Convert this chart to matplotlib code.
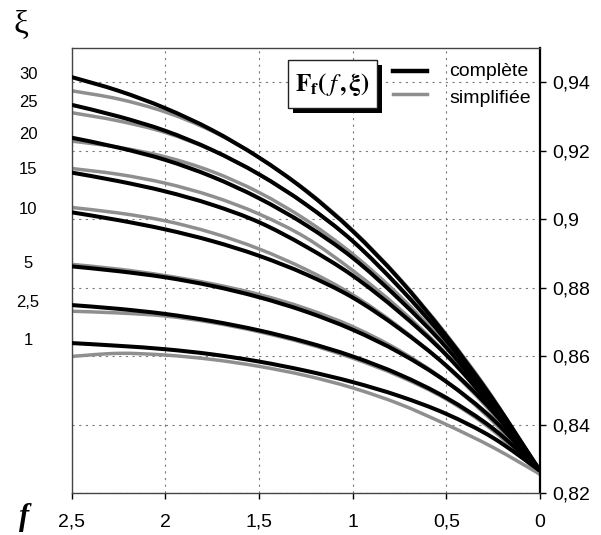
import matplotlib
matplotlib.use('Agg')
import matplotlib.pyplot as plt
from matplotlib.patches import Rectangle, PathPatch
from matplotlib.lines import Line2D
from matplotlib.path import Path

plt.rcParams['font.family'] = ['Liberation Sans', 'DejaVu Sans']
plt.rcParams['mathtext.fontset'] = 'stix'

# ---------------- data ----------------
f_values = [2.5, 2.25, 2.0, 1.75, 1.5, 1.25, 1.0, 0.75, 0.5, 0.25, 0.0]

xi_values = [30, 25, 20, 15, 10, 5, 2.5, 1]
xi_labels = ["30", "25", "20", "15", "10", "5", "2,5", "1"]

complete_xi30 = [0.9415, 0.9375, 0.9324, 0.9260, 0.9180, 0.9083, 0.8965, 0.8824, 0.8659, 0.8473, 0.8265]
complete_xi25 = [0.9334, 0.9300, 0.9258, 0.9202, 0.9131, 0.9043, 0.8936, 0.8800, 0.8645, 0.8465, 0.8265]
complete_xi20 = [0.9238, 0.9209, 0.9173, 0.9124, 0.9061, 0.8983, 0.8887, 0.8765, 0.8625, 0.8455, 0.8265]
complete_xi15 = [0.9136, 0.9111, 0.9081, 0.9042, 0.8991, 0.8920, 0.8835, 0.8728, 0.8603, 0.8447, 0.8265]
complete_xi10 = [0.9020, 0.8997, 0.8970, 0.8936, 0.8893, 0.8839, 0.8771, 0.8680, 0.8572, 0.8437, 0.8265]
complete_xi5 = [0.8862, 0.8848, 0.8830, 0.8805, 0.8772, 0.8730, 0.8677, 0.8610, 0.8525, 0.8415, 0.8265]
complete_xi2_5 = [0.8749, 0.8738, 0.8723, 0.8702, 0.8675, 0.8641, 0.8599, 0.8546, 0.8478, 0.8388, 0.8265]
complete_xi1 = [0.8638, 0.8630, 0.8620, 0.8605, 0.8584, 0.8557, 0.8524, 0.8483, 0.8431, 0.8361, 0.8265]

simplified_xi30 = [0.9375, 0.9351, 0.9313, 0.9257, 0.9180, 0.9085, 0.8968, 0.8827, 0.8663, 0.8477, 0.8255]
simplified_xi25 = [0.9311, 0.9287, 0.9253, 0.9201, 0.9131, 0.9043, 0.8936, 0.8802, 0.8648, 0.8468, 0.8255]
simplified_xi20 = [0.9228, 0.9210, 0.9182, 0.9139, 0.9078, 0.8998, 0.8898, 0.8776, 0.8630, 0.8452, 0.8255]
simplified_xi15 = [0.9148, 0.9131, 0.9105, 0.9067, 0.9015, 0.8946, 0.8850, 0.8738, 0.8606, 0.8445, 0.8255]
simplified_xi10 = [0.9034, 0.9018, 0.8995, 0.8960, 0.8913, 0.8853, 0.8779, 0.8684, 0.8570, 0.8430, 0.8255]
simplified_xi5 = [0.8868, 0.8854, 0.8835, 0.8811, 0.8780, 0.8739, 0.8686, 0.8616, 0.8526, 0.8408, 0.8255]
simplified_xi2_5 = [0.8731, 0.8726, 0.8717, 0.8698, 0.8671, 0.8637, 0.8594, 0.8541, 0.8474, 0.8382, 0.8255]
simplified_xi1 = [0.8599, 0.8608, 0.8603, 0.8590, 0.8570, 0.8543, 0.8507, 0.8460, 0.8400, 0.8333, 0.8255]

x_ticks = [2.5, 2.0, 1.5, 1.0, 0.5, 0.0]
x_tick_labels = ["2,5", "2", "1,5", "1", "0,5", "0"]
y_ticks = [0.82, 0.84, 0.86, 0.88, 0.90, 0.92, 0.94]
y_tick_labels = ["0,82", "0,84", "0,86", "0,88", "0,9", "0,92", "0,94"]

legend_title = r'$\mathbf{F_f(}\,\mathit{f}\,\mathbf{,\xi)}$'
series_names = ["complète", "simplifiée"]

complete_series = [complete_xi30, complete_xi25, complete_xi20, complete_xi15,
                   complete_xi10, complete_xi5, complete_xi2_5, complete_xi1]
simplified_series = [simplified_xi30, simplified_xi25, simplified_xi20, simplified_xi15,
                     simplified_xi10, simplified_xi5, simplified_xi2_5, simplified_xi1]


def smooth_path(xs, ys):
    """Spreadsheet-style 'smoothed line' through the data points (Bezier segments)."""
    pts = list(zip(xs, ys))
    n = len(pts)
    verts = [pts[0]]
    codes = [Path.MOVETO]
    for i in range(n - 1):
        p0 = pts[i - 1] if i > 0 else pts[i]
        p1 = pts[i]
        p2 = pts[i + 1]
        p3 = pts[i + 2] if i + 2 < n else pts[i + 1]
        c1 = (p1[0] + (p2[0] - p0[0]) / 6.0, p1[1] + (p2[1] - p0[1]) / 6.0)
        c2 = (p2[0] - (p3[0] - p1[0]) / 6.0, p2[1] - (p3[1] - p1[1]) / 6.0)
        verts += [c1, c2, p2]
        codes += [Path.CURVE4] * 3
    return Path(verts, codes)


# ---------------- figure ----------------
W, H = 601, 535
fig = plt.figure(figsize=(W / 100, H / 100), dpi=100)
ax_l, ax_r, ax_t, ax_b = 71.7, 540.0, 48.0, 493.0
ax = fig.add_axes([ax_l / W, 1 - ax_b / H, (ax_r - ax_l) / W, (ax_b - ax_t) / H])

black = '#000000'
gray = '#8f8f8f'

for ys in simplified_series:
    ax.add_patch(PathPatch(smooth_path(f_values, ys), facecolor='none', edgecolor=gray,
                           lw=2.5, capstyle='butt', zorder=2))
for ys in complete_series:
    ax.add_patch(PathPatch(smooth_path(f_values, ys), facecolor='none', edgecolor=black,
                           lw=2.9, capstyle='butt', zorder=3))

ax.set_xlim(2.5, 0.0)
ax.set_ylim(0.82, 0.95)

ax.set_xticks(x_ticks)
ax.set_xticklabels(x_tick_labels)
ax.yaxis.tick_right()
ax.set_yticks(y_ticks)
ax.set_yticklabels(y_tick_labels)
ax.tick_params(axis='x', direction='out', length=4, width=1, pad=11, labelsize=14)
ax.tick_params(axis='y', direction='out', length=4, width=1, pad=5, labelsize=14,
               right=True, left=False)

ax.grid(True, linestyle=(0, (2, 4)), color='#7a7a7a', lw=0.8, zorder=1)
ax.set_axisbelow(True)

for side in ['left', 'bottom', 'top']:
    ax.spines[side].set_color('#444444')
    ax.spines[side].set_linewidth(1.0)
ax.spines['right'].set_color('black')
ax.spines['right'].set_linewidth(1.6)

# xi labels at left, aligned with start of each complete curve
for lbl, ys in zip(xi_labels, complete_series):
    ax.annotate(lbl, xy=(-0.093, ys[0]), xycoords=('axes fraction', 'data'),
                xytext=(0, 2), textcoords='offset points',
                ha='center', va='center', fontsize=12)

# axis symbols
fig.text(21 / W, 1 - 25 / H, 'ξ', fontsize=24, family=['Liberation Serif', 'DejaVu Serif'],
         ha='center', va='center')
fig.text(24 / W, 1 - 518 / H, 'f', fontsize=22, family=['Liberation Serif', 'DejaVu Serif'],
         style='italic', weight='bold', ha='center', va='center')

# legend
aw, ah = ax_r - ax_l, ax_b - ax_t


def axx(px):
    return (px - ax_l) / aw


def axy(py):
    return 1 - (py - ax_t) / ah


bx0, bx1, by0, by1 = 288, 377, 60, 108
shadow = Rectangle((axx(bx0 + 5), axy(by1 + 5)), axx(bx1) - axx(bx0), axy(by0) - axy(by1),
                   transform=ax.transAxes, facecolor='black', edgecolor='none',
                   zorder=6, clip_on=False)
box = Rectangle((axx(bx0), axy(by1)), axx(bx1) - axx(bx0), axy(by0) - axy(by1),
                transform=ax.transAxes, facecolor='white', edgecolor='#222222', lw=1.0,
                zorder=7, clip_on=False)
ax.add_patch(shadow)
ax.add_patch(box)
ax.text(axx((bx0 + bx1) / 2), axy((by0 + by1) / 2), legend_title, transform=ax.transAxes,
        ha='center', va='center', fontsize=18, zorder=8)

ax.add_line(Line2D([axx(393), axx(427)], [axy(71), axy(71)], transform=ax.transAxes,
                   color=black, lw=3.2, zorder=8, clip_on=False))
ax.add_line(Line2D([axx(393), axx(427)], [axy(94), axy(94)], transform=ax.transAxes,
                   color=gray, lw=2.5, zorder=8, clip_on=False))
ax.text(axx(449), axy(76), series_names[0], transform=ax.transAxes, ha='left',
        va='baseline', fontsize=14, zorder=8)
ax.text(axx(449), axy(103), series_names[1], transform=ax.transAxes, ha='left',
        va='baseline', fontsize=14, zorder=8)

fig.savefig('out.png', dpi=100, facecolor='white')
